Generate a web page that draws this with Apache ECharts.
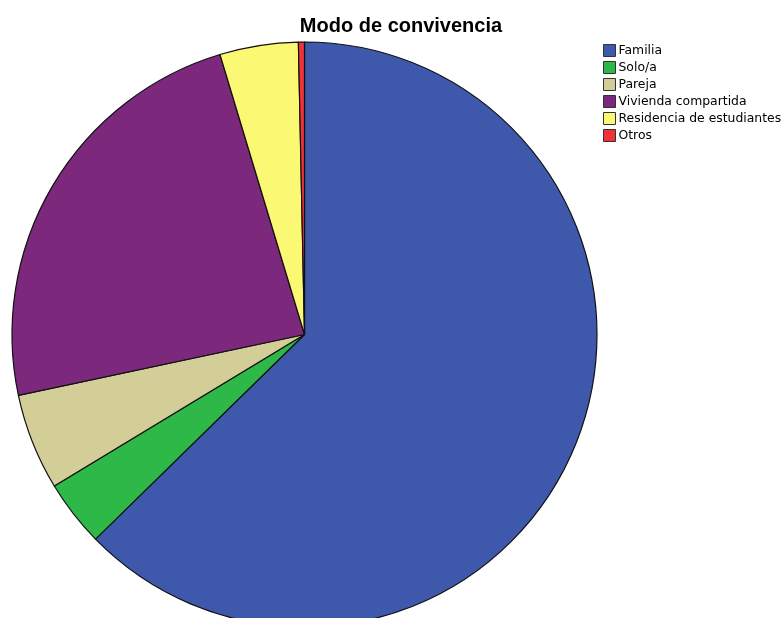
<!DOCTYPE html>
<html>
<head>
<meta charset="utf-8">
<script src="https://cdn.jsdelivr.net/npm/echarts@6/dist/echarts.min.js"></script>
<style>
  html, body { margin: 0; padding: 0; background: #ffffff; }
  #chart { width: 783px; height: 618px; }
</style>
</head>
<body>
<div id="chart"></div>
<script>
// Modo de convivencia: respondent counts per living arrangement
const categories = ['Familia', 'Solo/a', 'Pareja', 'Vivienda compartida', 'Residencia de estudiantes', 'Otros'];
const counts = [188, 11, 16, 71, 13, 1];
const colors = ['#3E58AC', '#2EB848', '#D3CE97', '#7C287D', '#FBF873', '#EF3338'];

const chart = echarts.init(document.getElementById('chart'), null, { renderer: 'canvas' });

chart.setOption({
  animation: false,
  backgroundColor: '#ffffff',
  title: {
    text: 'Modo de convivencia',
    left: 396,
    textAlign: 'center',
    top: 11,
    textStyle: {
      fontFamily: 'Liberation Sans, Arial, sans-serif',
      fontWeight: 'bold',
      fontSize: 20,
      color: '#000000'
    }
  },
  legend: {
    orient: 'vertical',
    left: 598,
    top: 39,
    itemWidth: 12,
    itemHeight: 12,
    itemGap: 4,
    icon: 'rect',
    selectedMode: false,
    itemStyle: { borderColor: '#333333', borderWidth: 1 },
    textStyle: {
      fontFamily: 'DejaVu Sans, sans-serif',
      fontSize: 12.4,
      lineHeight: 12,
      color: '#000000',
      padding: [0, 0, 0, -2]
    },
    data: categories
  },
  series: [{
    type: 'pie',
    center: [304.5, 334.5],
    radius: 292.5,
    startAngle: 90,
    clockwise: true,
    minAngle: 0,
    avoidLabelOverlap: false,
    label: { show: false },
    labelLine: { show: false },
    emphasis: { disabled: true },
    itemStyle: { borderColor: '#111111', borderWidth: 1.2 },
    data: categories.map((name, i) => ({
      name: name,
      value: counts[i],
      itemStyle: { color: colors[i] }
    }))
  }]
});
</script>
</body>
</html>
